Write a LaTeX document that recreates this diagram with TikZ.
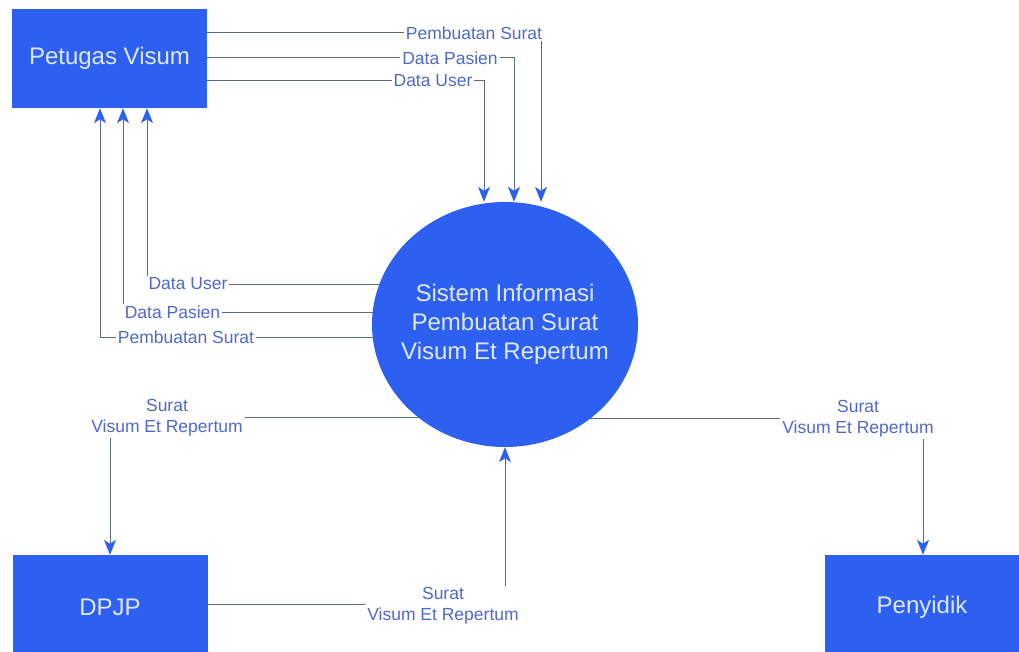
\documentclass[tikz,border=0pt]{standalone}
\usepackage{fontspec}
\setmainfont{Liberation Sans}
\usetikzlibrary{arrows.meta, shapes.geometric, backgrounds}
\definecolor{entblue}{RGB}{45,95,240}
\definecolor{enttext}{RGB}{222,232,255}
\definecolor{lbltext}{RGB}{80,105,205}
\definecolor{linegrey}{RGB}{95,105,130}

\begin{document}
\begin{tikzpicture}[x=1pt, y=-1pt,
    entity/.style={fill=entblue, text=enttext, minimum width=195pt, minimum height=99pt, inner sep=0pt, font=\fontsize{24}{29}\selectfont},
    flow/.style={draw=linegrey, line width=1pt, -{Stealth[length=15pt, width=12pt, inset=4pt, color=entblue]}},
    flowlbl/.style={fill=white, text=lbltext, inner sep=2pt, align=center, font=\fontsize{17.5}{21}\selectfont}]
  \useasboundingbox (0,0) rectangle (1019,652);

  % entities and process
  \node[entity] (petugas) at (109.5,58.5) {Petugas Visum};
  \node[entity, minimum height=105pt] (dpjp) at (110,607.5) {DPJP};
  \node[entity, minimum width=194pt, minimum height=105pt] (penyidik) at (922,607.5) {Penyidik};
  \node[ellipse, fill=entblue, text=enttext, minimum width=266pt, minimum height=245pt,
        inner xsep=-14pt, inner ysep=0pt, align=center, font=\fontsize{24}{29}\selectfont]
        (sistem) at (505,324.5) {Sistem Informasi\\Pembuatan Surat\\Visum Et Repertum};

  % corners of the flows
  \coordinate (psA) at (541,33);
  \coordinate (dpA) at (514,58);
  \coordinate (duA) at (484,81);
  \coordinate (duB) at (147,284);
  \coordinate (dpB) at (123,312);
  \coordinate (psB) at (100,337);
  \coordinate (svA) at (110,417);
  \coordinate (svB) at (923,418);
  \coordinate (svC) at (505,604);

  \begin{scope}[on background layer]
    \draw[flow] (petugas.east |- psA) -- (psA) -- (psA |- sistem.north);
    \draw[flow] (petugas.east |- dpA) -- (dpA) -- (dpA |- sistem.north);
    \draw[flow] (petugas.east |- duA) -- (duA) -- (duA |- sistem.north);
    \draw[flow] (sistem.center |- duB) -| (petugas.south -| duB);
    \draw[flow] (sistem.center |- dpB) -| (petugas.south -| dpB);
    \draw[flow] (sistem.center |- psB) -| (petugas.south -| psB);
    \draw[flow] (sistem.center |- svA) -| (dpjp.north);
    \draw[flow] (sistem.center |- svB) -| (penyidik.north -| svB);
    \draw[flow] (dpjp.east |- svC) -| (sistem.south);
  \end{scope}

  % labels
  \node[flowlbl] (lblPsA) at (474,33) {Pembuatan Surat};
  \node[flowlbl] (lblDpA) at (450,58) {Data Pasien};
  \node[flowlbl] (lblDuA) at (433,81) {Data User};
  \node[flowlbl] (lblDuB) at (188,284) {Data User};
  \node[flowlbl] (lblDpB) at (172.5,312) {Data Pasien};
  \node[flowlbl] (lblPsB) at (186,337) {Pembuatan Surat};
  \node[flowlbl] (lblSvA) at (167,418) {Surat\\Visum Et Repertum};
  \node[flowlbl] (lblSvB) at (858,419) {Surat\\Visum Et Repertum};
  \node[flowlbl] (lblSvC) at (443,606) {Surat\\Visum Et Repertum};
\end{tikzpicture}
\end{document}
